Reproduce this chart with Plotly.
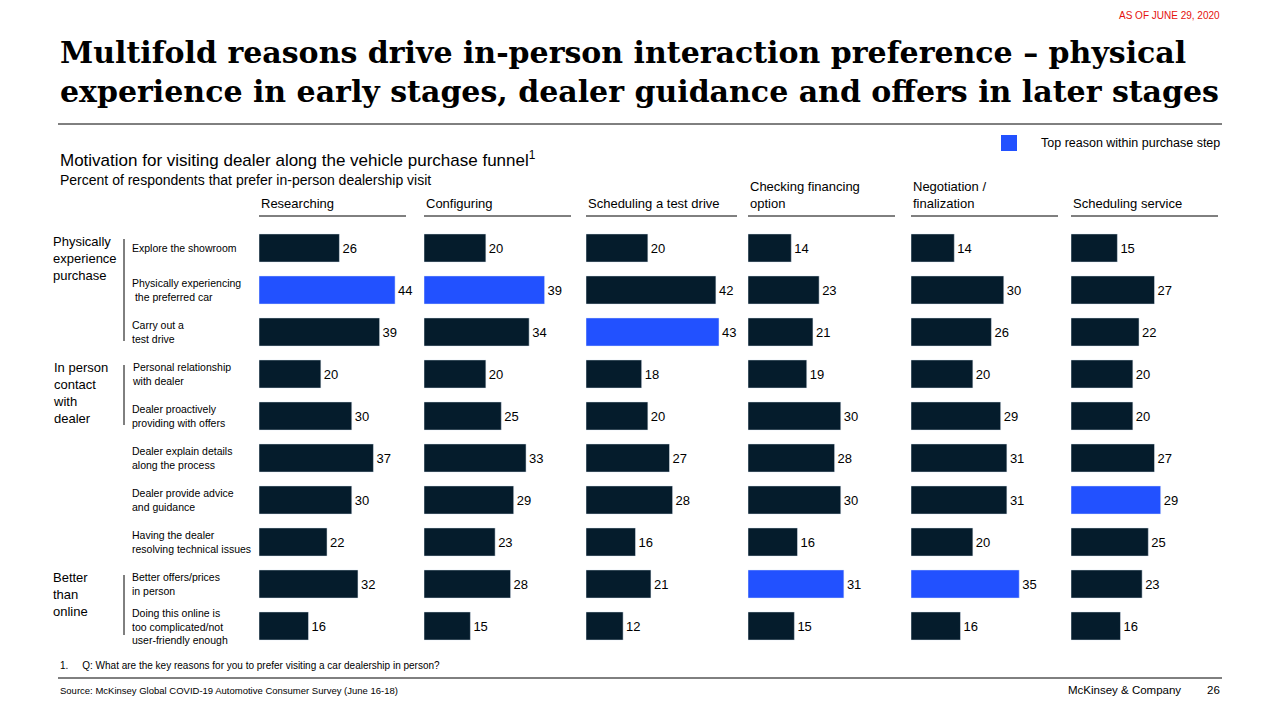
import plotly.graph_objects as go

W, H = 1280, 720
OFF = 8
steps = ["Researching", "Configuring", "Scheduling a test drive",
         "Checking financing<br>option", "Negotiation /<br>finalization", "Scheduling service"]
reasons = ["Explore the showroom", "Physically experiencing<br> the preferred car",
           "Carry out a<br>test drive", "Personal relationship<br>with dealer",
           "Dealer proactively<br>providing with offers", "Dealer explain details<br>along the process",
           "Dealer provide advice<br>and guidance", "Having the dealer<br>resolving technical issues",
           "Better offers/prices<br>in person", "Doing this online is<br>too complicated/not<br>user-friendly enough"]
values = [
    [26, 44, 39, 20, 30, 37, 30, 22, 32, 16],
    [20, 39, 34, 20, 25, 33, 29, 23, 28, 15],
    [20, 42, 43, 18, 20, 27, 28, 16, 21, 12],
    [14, 23, 21, 19, 30, 28, 30, 16, 31, 15],
    [14, 30, 26, 20, 29, 31, 31, 20, 35, 16],
    [15, 27, 22, 20, 20, 27, 29, 25, 23, 16],
]
top_idx = [1, 1, 2, 8, 8, 6]
groups = [("Physically<br>experience<br>purchase", 0, 2), ("In person<br>contact<br>with<br>dealer", 3, 4),
          ("Better<br>than<br>online", 8, 9)]

NAVY, BLUE = "#051C2C", "#2251FF"
FONT = "Liberation Sans, Arial, sans-serif"
panel_x = [259, 424, 586, 748, 911, 1071]
PW = 150
ytop, ybot = 227, 647
row_h = (ybot - ytop) / 10
FW, FH = W - 2 * OFF, H - 2 * OFF

def px(x): return (x - OFF) / FW
def py(y): return 1 - (y - OFF) / FH

fig = go.Figure()
for i, vals in enumerate(values):
    n = "" if i == 0 else str(i + 1)
    colors = [BLUE if j == top_idx[i] else NAVY for j in range(10)]
    fig.add_trace(go.Bar(x=vals, y=list(range(10)), orientation="h", marker_color=colors,
                         width=0.67, text=[str(v) for v in vals], textposition="outside",
                         textfont=dict(size=13, color="#000", family=FONT), cliponaxis=False,
                         xaxis="x" + n, yaxis="y" + n, showlegend=False, hoverinfo="skip"))
    fig.layout["xaxis" + n] = dict(domain=[px(panel_x[i]), px(panel_x[i] + PW)], range=[0, 48.5],
                                   visible=False, anchor="y" + n)
    fig.layout["yaxis" + n] = dict(domain=[py(ybot), py(ytop)], range=[9.5, -0.5], visible=False,
                                   anchor="x" + n)
    fig.add_annotation(x=px(panel_x[i]), y=py(213), xref="paper", yref="paper", text=steps[i],
                       showarrow=False, xanchor="left", yanchor="bottom", align="left",
                       font=dict(size=13, color="#000", family=FONT))
    fig.add_shape(type="line", xref="paper", yref="paper", x0=px(panel_x[i]),
                  x1=px(panel_x[i] + (147 if i != 2 else 151)), y0=py(216), y1=py(216),
                  line=dict(color="#000", width=1))

for j, r in enumerate(reasons):
    yc = ytop + row_h * (j + 0.5)
    fig.add_annotation(x=px(130), y=py(yc), xref="paper", yref="paper", text=r, showarrow=False,
                       xanchor="left", yanchor="middle", align="left",
                       font=dict(size=10.5, color="#000", family=FONT))
for g, a, b in groups:
    y0 = ytop + row_h * a + 12
    fig.add_annotation(x=px(51), y=py(y0 - 7), xref="paper", yref="paper", text=g, showarrow=False,
                       xanchor="left", yanchor="top", align="left",
                       font=dict(size=13, color="#000", family=FONT))
    fig.add_shape(type="line", xref="paper", yref="paper", x0=px(124), x1=px(124),
                  y0=py(y0), y1=py(ytop + row_h * (b + 1) - 12), line=dict(color="#000", width=1))

texts = [
    (1222, 16, "AS OF JUNE 29, 2020", 10, "#E5110D", "right"),
    (1222, 143, "Top reason within purchase step", 12.5, "#000", "right"),
    (58, 159, "Motivation for visiting dealer along the vehicle purchase funnel<sup>1</sup>", 17, "#000", "left"),
    (58, 180, "Percent of respondents that prefer in-person dealership visit", 14, "#000", "left"),
    (58, 665, "1.     Q: What are the key reasons for you to prefer visiting a car dealership in person?", 10, "#000", "left"),
    (58, 690, "Source: McKinsey Global COVID-19 Automotive Consumer Survey (June 16-18)", 9.5, "#000", "left"),
    (1183, 690, "McKinsey &amp; Company", 11.5, "#000", "right"),
    (1222, 690, "26", 11.5, "#000", "right"),
]
for x, y, t, s, c, anc in texts:
    fig.add_annotation(x=px(x), y=py(y), xref="paper", yref="paper", text=t, showarrow=False,
                       xanchor=anc, yanchor="middle", align=anc, font=dict(size=s, color=c, family=FONT))
fig.add_annotation(x=px(58), y=py(72), xref="paper", yref="paper", showarrow=False, xanchor="left",
                   yanchor="middle", align="left",
                   text="<b>Multifold reasons drive in-person interaction preference – physical<br>experience in early stages, dealer guidance and offers in later stages</b>",
                   font=dict(size=30, color="#000", family="DejaVu Serif, serif"))
fig.add_shape(type="rect", xref="paper", yref="paper", x0=px(1001), x1=px(1017), y0=py(135), y1=py(151),
              fillcolor=BLUE, line=dict(width=0))
fig.add_shape(type="line", xref="paper", yref="paper", x0=px(58), x1=px(1222), y0=py(124), y1=py(124),
              line=dict(color="#000", width=1))
fig.add_shape(type="line", xref="paper", yref="paper", x0=px(58), x1=px(1222), y0=py(678), y1=py(678),
              line=dict(color="#000", width=1))

fig.update_layout(width=FW, height=FH, margin=dict(l=0, r=0, t=0, b=0), paper_bgcolor="white",
                  plot_bgcolor="white", bargap=0.33)
fig.write_html("out.html")
